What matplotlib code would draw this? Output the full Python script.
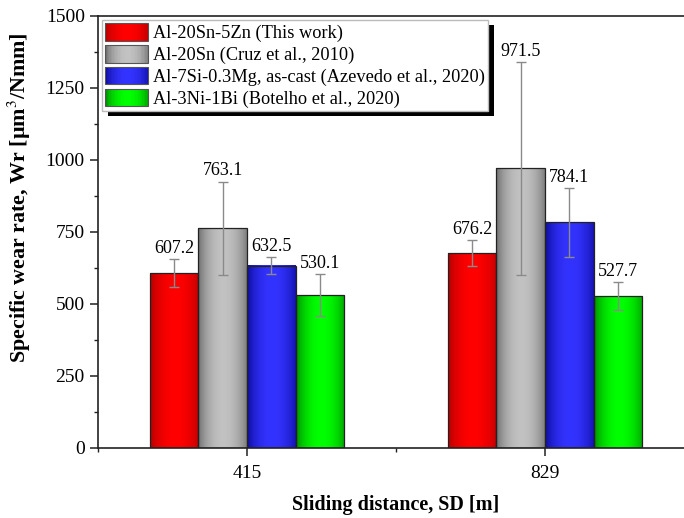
import numpy as np
import matplotlib.pyplot as plt
from matplotlib.patches import Rectangle
from matplotlib.legend_handler import HandlerBase
from matplotlib.ticker import MultipleLocator

plt.rcParams['font.family'] = ['Liberation Serif', 'DejaVu Serif']
plt.rcParams['mathtext.fontset'] = 'stix'

# Sliding distances (m) and specific wear rates (um^3/Nmm)
distances = ['415', '829']
labels = ['Al-20Sn-5Zn (This work)',
          'Al-20Sn (Cruz et al., 2010)',
          'Al-7Si-0.3Mg, as-cast (Azevedo et al., 2020)',
          'Al-3Ni-1Bi (Botelho et al., 2020)']
al20sn5zn = [607.2, 676.2]
al20sn = [763.1, 971.5]
al7si03mg = [632.5, 784.1]
al3ni1bi = [530.1, 527.7]
al20sn5zn_err = [48, 45]
al20sn_err = [162, 370]
al7si03mg_err = [29, 120]
al3ni1bi_err = [73, 47]

series = [al20sn5zn, al20sn, al7si03mg, al3ni1bi]
errors = [al20sn5zn_err, al20sn_err, al7si03mg_err, al3ni1bi_err]
# (edge shade, centre shade) for the cylinder-like fill
shades = [((0.62, 0.0, 0.0), (1.0, 0.0, 0.0)),
          ((0.33, 0.33, 0.33), (0.76, 0.76, 0.76)),
          ((0.0, 0.0, 0.50), (0.20, 0.20, 1.0)),
          ((0.0, 0.42, 0.0), (0.0, 1.0, 0.0))]


def gradient_colors(dark, light, n=64):
    t = (np.arange(n) + 0.5) / n
    f = np.clip(np.sin(np.pi * (t * 0.92 + 0.02)) ** 0.6, 0, 1)
    dark = np.array(dark)
    light = np.array(light)
    return dark[None, :] + (light - dark)[None, :] * f[:, None]


class GradientHandler(HandlerBase):
    def __init__(self, dark, light):
        super().__init__()
        self.cols = gradient_colors(dark, light, 30)

    def create_artists(self, legend, orig_handle, xdescent, ydescent,
                       width, height, fontsize, trans):
        n = len(self.cols)
        arts = []
        for i, c in enumerate(self.cols):
            arts.append(Rectangle((-xdescent + i * width / n, -ydescent),
                                  width / n * 1.1, height, facecolor=c,
                                  edgecolor='none', transform=trans))
        arts.append(Rectangle((-xdescent, -ydescent), width, height,
                              fill=False, edgecolor='#555555', lw=0.8,
                              transform=trans))
        return arts


fig = plt.figure(figsize=(6.84, 5.18), dpi=100)
ax = fig.add_axes([98 / 684, 70 / 518, 596 / 684, 432 / 518])

x = np.arange(len(distances))
w = 0.163
for k, (vals, errs, (dark, light)) in enumerate(zip(series, errors, shades)):
    xs = x + (k - 1.5) * w
    bars = ax.bar(xs, vals, w, facecolor='none', edgecolor='#222222',
                  linewidth=0.9, zorder=3)
    img = gradient_colors(dark, light)[None, :, :]
    for b in bars:
        ax.imshow(img, extent=[b.get_x(), b.get_x() + b.get_width(), 0,
                               b.get_height()],
                  aspect='auto', interpolation='bilinear', zorder=2)
    ax.errorbar(xs, vals, yerr=errs, fmt='none', ecolor='#8a8a8a',
                elinewidth=1.0, capsize=3.5, capthick=1.0, zorder=4)
    for xi, v, e in zip(xs, vals, errs):
        ax.annotate(f'{v:.1f}', (xi, v + e), xytext=(0, 1.5),
                    textcoords='offset points', ha='center', va='bottom',
                    fontsize=13, zorder=5)

ax.set_xlim(-0.5, 1.5)
ax.set_ylim(0, 1500)
ax.set_xticks(x)
ax.set_xticklabels(distances)
ax.xaxis.set_minor_locator(MultipleLocator(0.5))
ax.yaxis.set_major_locator(MultipleLocator(250))
ax.yaxis.set_minor_locator(MultipleLocator(125))
ax.tick_params(axis='both', which='major', direction='out', length=6,
               width=1.1, labelsize=14, color='#222222')
ax.tick_params(axis='both', which='minor', direction='out', length=3,
               width=1.0, color='#222222')
ax.tick_params(axis='x', which='major', pad=6)
ax.tick_params(top=False, right=False, which='both')
for s in ax.spines.values():
    s.set_linewidth(1.2)
    s.set_color('#222222')

ax.set_xlabel('Sliding distance, SD [m]', fontsize=14.5, fontweight='bold')
ax.xaxis.set_label_coords(0.5, -0.109)
ax.set_ylabel('Specific wear rate, Wr [µm$^3$/Nmm]', fontsize=15.8,
              fontweight='bold')
ax.yaxis.set_label_coords(-0.109, 0.58)

proxies = [Rectangle((0, 0), 1, 1) for _ in labels]
hmap = {p: GradientHandler(d, l) for p, (d, l) in zip(proxies, shades)}
leg = ax.legend(proxies, labels, handler_map=hmap, loc='upper left',
                fontsize=13.2, handlelength=2.35, handleheight=1.1,
                labelspacing=0.15, handletextpad=0.27, borderpad=0.17,
                borderaxespad=0.22, fancybox=False, framealpha=1,
                edgecolor='#bbbbbb')
leg.get_frame().set_linewidth(1.0)
leg.set_zorder(6)

# offset black shadow behind the legend box
fig.canvas.draw()
bb = leg.get_window_extent().transformed(fig.transFigure.inverted())
dx, dy = 6 / 684, 5 / 518
ax.add_patch(Rectangle((bb.x0 + dx, bb.y0 - dy), bb.width, bb.height,
                       transform=fig.transFigure, facecolor='black',
                       edgecolor='none', zorder=5.5, clip_on=False))

fig.savefig('out.png', dpi=100)
